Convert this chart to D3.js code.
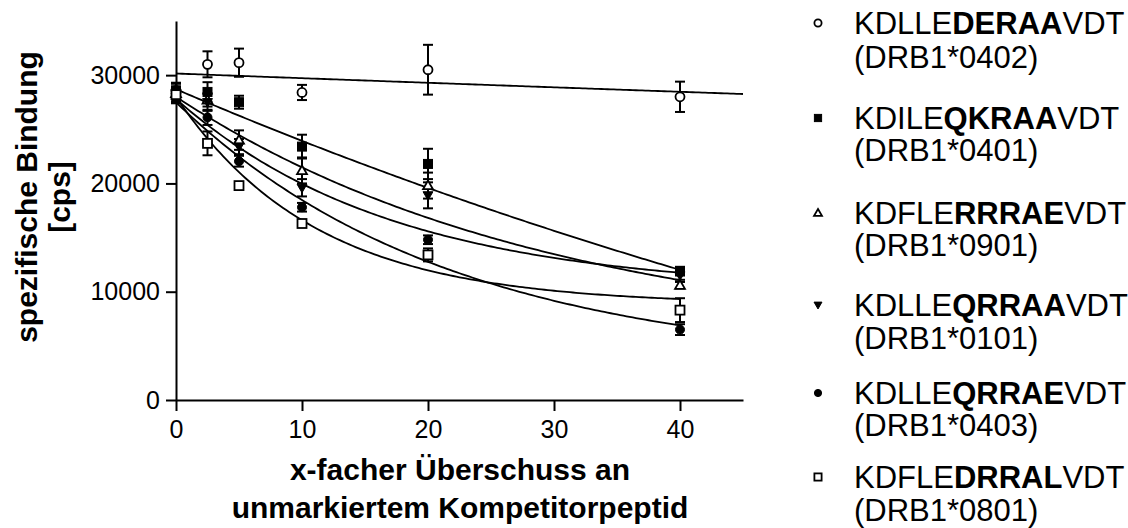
<!DOCTYPE html>
<html>
<head>
<meta charset="utf-8">
<script src="https://cdn.jsdelivr.net/npm/d3@7"></script>
<style>
  html, body { margin: 0; padding: 0; background: #fff; }
  svg { display: block; font-family: "Liberation Sans", Arial, sans-serif; }
</style>
</head>
<body>
<svg id="chart" width="1128" height="528"></svg>
<script>
// Competitor excess (x-fold) at which binding was measured
const excess = [0, 2.5, 5, 10, 20, 40];

// Peptide labels: plain prefix, bold core, plain suffix, allele
const pepPrefix = ["KDLLE", "KDILE", "KDFLE", "KDLLE", "KDLLE", "KDFLE"];
const pepCore   = ["DERAA", "QKRAA", "RRRAE", "QRRAA", "QRRAE", "DRRAL"];
const pepSuffix = ["VDT", "VDT", "VDT", "VDT", "VDT", "VDT"];
const alleles   = ["DRB1*0402", "DRB1*0401", "DRB1*0901", "DRB1*0101", "DRB1*0403", "DRB1*0801"];
const markers   = ["circleOpen", "squareFilled", "triangleUpOpen", "triangleDownFilled", "circleFilled", "squareOpen"];

// Specific binding [cps], mean and error per excess level
const bind0402 = [28600, 31000, 31150, 28400, 30500, 28000];
const err0402  = [600, 1200, 1300, 700, 2300, 1400];
const bind0401 = [28600, 28450, 27500, 23400, 21800, 11900];
const err0401  = [700, 900, 600, 1100, 1400, 400];
const bind0901 = [28300, 27700, 24000, 21200, 19800, 10600];
const err0901  = [500, 600, 900, 1200, 1200, 300];
const bind0101 = [28000, 27500, 23400, 19600, 18900, 11500];
const err0101  = [500, 800, 700, 800, 1200, 400];
const bind0403 = [27900, 26100, 22050, 17800, 14800, 6500];
const err0403  = [500, 700, 500, 400, 400, 500];
const bind0801 = [28200, 23700, 19800, 16300, 13400, 8300];
const err0801  = [600, 1100, 300, 300, 600, 1100];

// One-phase decay fit per peptide: plateau + (top - plateau) * exp(-rate * x)
const fitTop     = [30150, 28700, 28000, 27800, 27500, 28000];
const fitPlateau = [0, -25000, 5000, 10000, 3000, 8800];
const fitRate    = [0.00144, 0.0093, 0.0333, 0.058, 0.046, 0.09];
const fitEnd     = [45, 40, 40, 40, 40, 40];

// Axis ticks
const xTicks = [0, 10, 20, 30, 40];
const yTicks = [0, 10000, 20000, 30000];

const means = [bind0402, bind0401, bind0901, bind0101, bind0403, bind0801];
const errs  = [err0402, err0401, err0901, err0101, err0403, err0801];

const svg = d3.select("#chart");

const x = d3.scaleLinear().domain([0, 45]).range([176, 743]);
const y = d3.scaleLinear().domain([0, 35000]).range([400, 21]);

// Axes
const yAxis = svg.append("g")
  .attr("transform", `translate(${x(0)},0)`)
  .call(d3.axisLeft(y).tickValues(yTicks).tickFormat(d3.format("d"))
    .tickSize(10).tickPadding(6).tickSizeOuter(0));
const xAxis = svg.append("g")
  .attr("transform", `translate(0,${y(0)})`)
  .call(d3.axisBottom(x).tickValues(xTicks).tickFormat(d3.format("d"))
    .tickSize(11).tickPadding(9).tickSizeOuter(0));

[xAxis, yAxis].forEach(g => {
  g.select(".domain").attr("stroke", "#000").attr("stroke-width", 2);
  g.selectAll(".tick line").attr("stroke", "#000").attr("stroke-width", 2);
  g.selectAll(".tick text")
    .attr("fill", "#000")
    .style("font-family", "'Liberation Sans', Arial, sans-serif")
    .style("font-size", "25px");
});

// Axis titles
const titleSize = "30px";
svg.append("text")
  .attr("transform", `translate(37,197) rotate(-90)`)
  .attr("text-anchor", "middle")
  .style("font-size", titleSize).style("font-weight", "bold")
  .text("spezifische Bindung");
svg.append("text")
  .attr("transform", `translate(70,197) rotate(-90)`)
  .attr("text-anchor", "middle")
  .style("font-size", titleSize).style("font-weight", "bold")
  .text("[cps]");
svg.append("text")
  .attr("x", 460).attr("y", 480)
  .attr("text-anchor", "middle")
  .style("font-size", titleSize).style("font-weight", "bold")
  .text("x-facher Überschuss an");
svg.append("text")
  .attr("x", 460).attr("y", 518)
  .attr("text-anchor", "middle")
  .style("font-size", titleSize).style("font-weight", "bold")
  .text("unmarkiertem Kompetitorpeptid");

// Fitted curves
const line = d3.line().x(d => x(d[0])).y(d => y(d[1]));
const curveG = svg.append("g");
means.forEach((_, i) => {
  const pts = d3.range(0, fitEnd[i] + 0.001, 0.25).map(v =>
    [v, fitPlateau[i] + (fitTop[i] - fitPlateau[i]) * Math.exp(-fitRate[i] * v)]);
  curveG.append("path")
    .attr("d", line(pts))
    .attr("fill", "none")
    .attr("stroke", "#000")
    .attr("stroke-width", 1.8);
});

// Marker drawing
function drawMarker(g, type, cx, cy, s) {
  const filled = type.endsWith("Filled");
  const fill = filled ? "#000" : "#fff";
  const sw = filled ? 1 : 1.8;
  if (type.startsWith("circle")) {
    g.append("circle").attr("cx", cx).attr("cy", cy).attr("r", s)
      .attr("fill", fill).attr("stroke", "#000").attr("stroke-width", sw);
  } else if (type.startsWith("square")) {
    g.append("rect").attr("x", cx - s).attr("y", cy - s)
      .attr("width", 2 * s).attr("height", 2 * s)
      .attr("fill", fill).attr("stroke", "#000").attr("stroke-width", sw);
  } else if (type.startsWith("triangleUp")) {
    g.append("path")
      .attr("d", `M${cx},${cy - s * 1.1}L${cx + s * 1.1},${cy + s * 0.8}L${cx - s * 1.1},${cy + s * 0.8}Z`)
      .attr("fill", fill).attr("stroke", "#000").attr("stroke-width", sw);
  } else {
    g.append("path")
      .attr("d", `M${cx},${cy + s * 1.1}L${cx + s * 1.1},${cy - s * 0.8}L${cx - s * 1.1},${cy - s * 0.8}Z`)
      .attr("fill", fill).attr("stroke", "#000").attr("stroke-width", sw);
  }
}

// Error bars then markers
const ptsG = svg.append("g");
means.forEach((m, i) => {
  m.forEach((v, j) => {
    const cx = x(excess[j]);
    const e = errs[i][j];
    const g = ptsG.append("g");
    g.append("line").attr("x1", cx).attr("x2", cx)
      .attr("y1", y(v - e)).attr("y2", y(v + e))
      .attr("stroke", "#000").attr("stroke-width", 2);
    [v - e, v + e].forEach(c => {
      g.append("line").attr("x1", cx - 5).attr("x2", cx + 5)
        .attr("y1", y(c)).attr("y2", y(c))
        .attr("stroke", "#000").attr("stroke-width", 2);
    });
  });
});
means.forEach((m, i) => {
  m.forEach((v, j) => {
    drawMarker(ptsG, markers[i], x(excess[j]), y(v), 4.5);
  });
});

// Legend
const legendLine1 = [23, 118, 213, 305, 393, 477];
const legendLine2 = [57, 150, 245, 338, 425, 510];
const legG = svg.append("g");
alleles.forEach((a, i) => {
  drawMarker(legG, markers[i], 818, legendLine1[i], 3.6);
  const t = legG.append("text")
    .attr("x", 854).attr("y", legendLine1[i])
    .attr("dy", "0.36em")
    .style("font-size", "31px");
  t.append("tspan").text(pepPrefix[i]);
  t.append("tspan").style("font-weight", "bold").text(pepCore[i]);
  t.append("tspan").text(pepSuffix[i]);
  legG.append("text")
    .attr("x", 854).attr("y", legendLine2[i])
    .attr("dy", "0.36em")
    .style("font-size", "31px")
    .text(`(${a})`);
});
</script>
</body>
</html>
